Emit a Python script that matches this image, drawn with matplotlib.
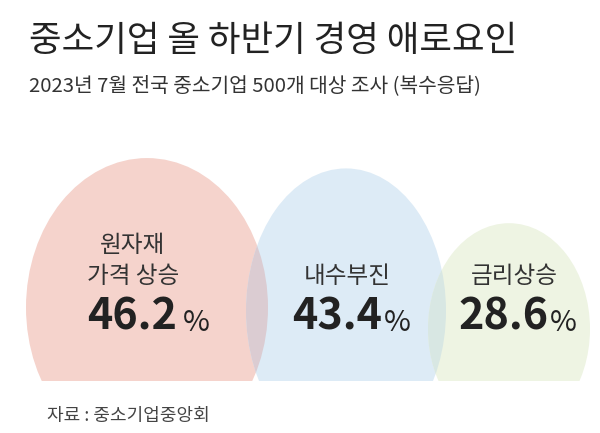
import matplotlib
matplotlib.use("Agg")
import matplotlib.pyplot as plt
from matplotlib.patches import Ellipse

plt.rcParams['font.family'] = ['Noto Sans CJK KR', 'DejaVu Sans']

# data
labels = ['원자재\n가격 상승', '내수부진', '금리상승']
values = [46.2, 43.4, 28.6]
title = '중소기업 올 하반기 경영 애로요인'
subtitle = '2023년 7월 전국 중소기업 500개 대상 조사 (복수응답)'
source = '자료 : 중소기업중앙회'

# layout (pixels on a 600x433 canvas)
W, H = 600, 433
cx = [147, 346, 509]          # bubble centres
widths = [242, 200, 162]      # bubble widths
label_x = [133, 347, 514]
num_x = [132, 337, 503]
pct_gap = [4, 1, 1]
fills = ['#F5D3CC', '#DDEBF6', '#EEF4E3']
overlaps = ['#DBCCD2', '#D8E7E3']   # pink/blue, blue/green

base_px, top_px = 381, 140
px_per_pct = 3.7
offset_px = 52
ylo = -offset_px / px_per_pct
yhi = ylo + (base_px - top_px) / px_per_pct

fig = plt.figure(figsize=(W / 100, H / 100), dpi=100)
ax = fig.add_axes([0, (H - base_px) / H, 1, (base_px - top_px) / H])
ax.set_xlim(0, W)
ax.set_ylim(ylo, yhi)
ax.axis('off')

def bubble(i, color):
    b = 0.67 * (values[i] - ylo)
    return Ellipse((cx[i], values[i] - b), widths[i], 2 * b,
                   facecolor=color, edgecolor='none')

shapes = []
for i in range(len(values)):
    e = bubble(i, fills[i])
    ax.add_patch(e)
    shapes.append(e)

# darker lens where neighbours overlap
for i in range(len(values) - 1):
    ov = bubble(i + 1, overlaps[i])
    ov.set_clip_path(shapes[i])
    ov.set_clip_box(ax.bbox)
    ax.add_artist(ov)

def fx(x):
    return x / W

def fy(y):
    return 1 - y / H

fig.text(fx(29), fy(51), title, fontsize=25.5, color='#222222',
         fontweight='medium', va='baseline')
fig.text(fx(29), fy(91), subtitle, fontsize=14.6, color='#333333',
         va='baseline')
fig.text(fx(47), fy(421), source, fontsize=13, color='#444444',
         va='baseline')

for i, (lab, v) in enumerate(zip(labels, values)):
    fig.text(fx(label_x[i]), fy(283), lab, fontsize=17, color='#333333',
             ha='center', va='baseline', linespacing=1.45)
    t = fig.text(fx(num_x[i]), fy(338), f'{v:.1f}', fontsize=31,
                 color='#222222', fontweight='bold', ha='center', va='bottom')
    ax.annotate('%', xy=(1, 0), xycoords=t, xytext=(pct_gap[i], 0),
                textcoords='offset points', fontsize=21, color='#222222',
                ha='left', va='bottom')

fig.savefig('out.png', dpi=100)
